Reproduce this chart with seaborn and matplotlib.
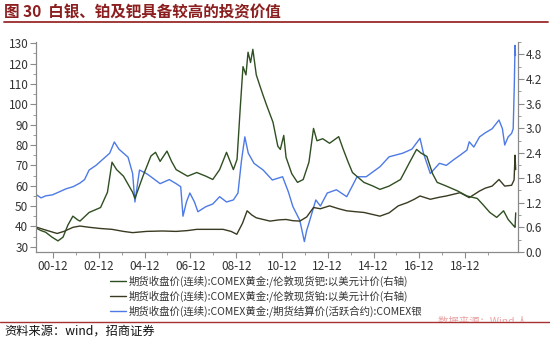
import matplotlib
matplotlib.use("Agg")
import matplotlib.pyplot as plt
from matplotlib.transforms import Bbox
from matplotlib.ticker import MultipleLocator, FixedLocator
import seaborn as sns
import pandas as pd

# ---------------- data (decimal years) ----------------
silver_x = [2000.22, 2000.4, 2000.6, 2000.9, 2001.2, 2001.5, 2001.8, 2002.1, 2002.3, 2002.5,
            2002.8, 2003.1, 2003.4, 2003.6, 2003.8, 2004.2, 2004.4, 2004.5, 2004.7, 2005.0,
            2005.2, 2005.6, 2006.0, 2006.3, 2006.5, 2006.6, 2006.75, 2006.9, 2007.1, 2007.25,
            2007.6, 2007.9, 2008.2, 2008.5, 2008.8, 2009.0, 2009.15, 2009.3, 2009.45, 2009.7,
            2010.1, 2010.5, 2010.95, 2011.2, 2011.4, 2011.7, 2011.9, 2012.0, 2012.1, 2012.4,
            2012.6, 2012.9, 2013.3, 2013.75, 2014.0, 2014.2, 2014.6, 2015.2, 2015.6, 2016.2,
            2016.6, 2016.95, 2017.1, 2017.4, 2017.8, 2018.1, 2018.4, 2018.7, 2019.0, 2019.1,
            2019.3, 2019.55, 2019.8, 2020.1, 2020.4, 2020.55, 2020.65, 2020.8, 2020.95, 2021.02,
            2021.07, 2021.1, 2021.12]
silver_y = [55.4, 54, 55, 55.5, 57, 58.5, 59.5, 61.3, 63, 67.7,
            70, 73, 76, 81.5, 78, 74, 66, 52, 67.7, 66,
            64.4, 61, 63, 61, 59.5, 45, 52, 56.4, 52, 47.2,
            49.7, 51, 54.6, 52, 53, 56.4, 72, 84, 76, 71,
            67.7, 62.8, 64.4, 57, 49.7, 43, 32.5, 38, 41.6, 53,
            50, 56.4, 58, 54.6, 60, 64.4, 64.4, 69.3, 74.2, 76,
            78, 83.3, 76, 66, 71, 70, 72.6, 75, 77.5, 81.6,
            79, 84, 86, 88, 92.3, 88, 80, 84, 85.7, 88,
            110, 129, 124]

pall_x = [2000.22, 2000.4, 2000.6, 2000.88, 2001.14, 2001.36, 2001.57, 2001.79, 2002.0, 2002.1,
          2002.5, 2003.0, 2003.3, 2003.5, 2003.7, 2004.0, 2004.4, 2004.5, 2004.85, 2005.2,
          2005.4, 2005.6, 2005.9, 2006.1, 2006.3, 2006.8, 2007.2, 2007.6, 2007.9, 2008.2,
          2008.5, 2008.8, 2008.96, 2009.1, 2009.22, 2009.35, 2009.44, 2009.55, 2009.65, 2009.8,
          2009.96, 2010.1, 2010.26, 2010.53, 2010.74, 2010.85, 2011.0, 2011.1, 2011.35, 2011.6,
          2011.85, 2012.1, 2012.3, 2012.45, 2012.7, 2013.0, 2013.4, 2013.6, 2013.8, 2014.0,
          2014.5, 2014.9, 2015.2, 2015.6, 2016.1, 2016.5, 2016.8, 2017.0, 2017.25, 2017.5,
          2017.7, 2018.1, 2018.6, 2019.0, 2019.45, 2019.7, 2020.0, 2020.3, 2020.6, 2020.8,
          2021.05, 2021.1, 2021.13]
pall_y = [0.57, 0.52, 0.48, 0.36, 0.27, 0.36, 0.65, 0.87, 0.78, 0.75,
          0.96, 1.08, 1.45, 2.18, 2.0, 1.84, 1.45, 1.3, 1.84, 2.33,
          2.42, 2.2, 2.45, 2.2, 2.0, 1.84, 1.93, 1.84, 1.76, 2.0,
          2.42, 2.0, 2.25, 3.5, 4.5, 4.3, 4.85, 4.6, 4.92, 4.3,
          4.03, 3.8, 3.55, 3.15, 2.57, 2.49, 2.83, 2.3, 1.9, 1.69,
          1.76, 2.18, 3.0, 2.7, 2.75, 2.64, 2.8, 2.49, 2.2, 1.93,
          1.69, 1.6, 1.52, 1.6, 1.76, 2.18, 2.49, 2.4, 2.32, 1.9,
          1.69, 1.6, 1.48, 1.36, 1.3, 1.15, 0.96, 0.84, 1.0, 0.79,
          0.63, 0.6, 0.95]

plat_x = [2000.22, 2000.5, 2000.8, 2001.1, 2001.4, 2001.8, 2002.1, 2002.5, 2003.0, 2003.5,
          2004.0, 2004.4, 2005.0, 2005.7, 2006.3, 2006.8, 2007.2, 2007.8, 2008.35, 2008.7,
          2008.95, 2009.2, 2009.4, 2009.6, 2009.8, 2010.4, 2010.8, 2011.1, 2011.4, 2011.7,
          2012.0, 2012.3, 2012.6, 2013.0, 2013.4, 2013.75, 2014.1, 2014.5, 2015.2, 2015.6,
          2016.0, 2016.4, 2016.7, 2016.95, 2017.4, 2017.8, 2018.1, 2018.7, 2019.1, 2019.55,
          2019.8, 2020.1, 2020.4, 2020.65, 2020.95, 2021.06, 2021.1, 2021.13]
plat_y = [0.6, 0.55, 0.5, 0.45, 0.5, 0.6, 0.63, 0.6, 0.57, 0.55,
          0.5, 0.47, 0.5, 0.51, 0.5, 0.52, 0.55, 0.55, 0.55, 0.5,
          0.43, 0.7, 1.0, 0.9, 0.83, 0.75, 0.78, 0.79, 0.76, 0.75,
          0.85, 1.08, 1.05, 1.12, 1.05, 1.0, 0.98, 0.96, 0.87, 0.95,
          1.12, 1.2, 1.28, 1.36, 1.28, 1.33, 1.36, 1.44, 1.32, 1.48,
          1.55, 1.6, 1.76, 1.6, 1.62, 1.75, 2.35, 2.0]

tick_pos = [2000.92, 2002.92, 2004.92, 2006.92, 2008.92, 2010.92, 2012.92, 2014.92, 2016.92, 2018.92]
tick_labels = ["00-12", "02-12", "04-12", "06-12", "08-12", "10-12", "12-12", "14-12", "16-12", "18-12"]

label_pall = "期货收盘价(连续):COMEX黄金:/伦敦现货钯:以美元计价(右轴)"
label_plat = "期货收盘价(连续):COMEX黄金:/伦敦现货铂:以美元计价(右轴)"
label_silv = "期货收盘价(连续):COMEX黄金:/期货结算价(活跃合约):COMEX银"
title_text = "图 30  白银、铂及钯具备较高的投资价值"
source_text = "资料来源：wind，招商证券"

# ---------------- style ----------------
sns.set_theme(style="white")
plt.rcParams['font.family'] = ['Noto Sans CJK SC', 'DejaVu Sans']
plt.rcParams['axes.unicode_minus'] = False

c_pall = "#2f4f22"
c_plat = "#3a3a22"
c_silv = "#4d7ae6"
spine_c = "#8a8a8a"
text_c = "#333333"

W, H = 550, 348
fig = plt.figure(figsize=(W / 100, H / 100), dpi=100)
ax = fig.add_axes([36 / W, 1 - 252 / H, (518 - 36) / W, (252 - 41.5) / H])
ax2 = ax.twinx()

df_s = pd.DataFrame({"x": silver_x, "y": silver_y})
df_p = pd.DataFrame({"x": pall_x, "y": pall_y})
df_t = pd.DataFrame({"x": plat_x, "y": plat_y})

sns.lineplot(data=df_s, x="x", y="y", ax=ax, color=c_silv, lw=1.0, label=label_silv, legend=False)
sns.lineplot(data=df_t, x="x", y="y", ax=ax2, color=c_plat, lw=1.0, label=label_plat, legend=False)
sns.lineplot(data=df_p, x="x", y="y", ax=ax2, color=c_pall, lw=1.0, label=label_pall, legend=False)

ax.set_xlim(2000.18, 2021.23)
ax.set_ylim(27.4, 130.9)
ax2.set_ylim(0, 5.11)

ax.set_xlabel("")
ax.set_ylabel("")
ax2.set_ylabel("")

ax.xaxis.set_major_locator(FixedLocator(tick_pos))
ax.set_xticklabels(tick_labels)
ax.xaxis.set_minor_locator(FixedLocator([p + 1 for p in tick_pos]))
ax.yaxis.set_major_locator(MultipleLocator(10))
ax.yaxis.set_minor_locator(MultipleLocator(5))
ax2.yaxis.set_major_locator(FixedLocator([0.0, 0.6, 1.2, 1.8, 2.4, 3.0, 3.6, 4.2, 4.8]))
ax2.yaxis.set_minor_locator(MultipleLocator(0.3))
ax2.set_yticklabels(["0.0", "0.6", "1.2", "1.8", "2.4", "3.0", "3.6", "4.2", "4.8"])

for a in (ax, ax2):
    for s in a.spines.values():
        s.set_color(spine_c)
        s.set_linewidth(0.8)
    a.spines['top'].set_visible(False)
    a.tick_params(which='major', length=4, width=0.8, color=spine_c, labelsize=8.5,
                  labelcolor=text_c, pad=1.5, direction='out')
    a.tick_params(which='minor', length=2, width=0.6, color=spine_c, direction='out')
ax.tick_params(axis='x', which='both', bottom=True)
ax.tick_params(axis='y', which='both', left=True)
ax2.tick_params(axis='y', which='both', right=True)
ax.tick_params(axis='x', pad=1.5)
ax.grid(False)
ax2.grid(False)

# legend
h_s = ax.get_lines()[0]
h_t, h_p = ax2.get_lines()[0], ax2.get_lines()[1]
leg = fig.legend([h_p, h_t, h_s], [label_pall, label_plat, label_silv],
                 loc='upper left', bbox_to_anchor=(110 / W, 1 - 275 / H),
                 frameon=False, fontsize=7.5, handlelength=1.5, handletextpad=0.3,
                 labelspacing=0.35, borderpad=0, borderaxespad=0)
for t in leg.get_texts():
    t.set_color(text_c)

# title and rules
fig.text(4 / W, 1 - 12 / H, title_text, fontsize=11.2, fontweight='bold', color="#8b1e1e",
         ha='left', va='center')
fig.add_artist(plt.Line2D([4 / W, 548 / W], [1 - 22 / H, 1 - 22 / H], color="#9a2a2a", lw=1.3))
fig.add_artist(plt.Line2D([0, 1], [1 - 322 / H, 1 - 322 / H], color="#a83232", lw=1.0))

# faint clipped note at lower right
note = fig.text(438 / W, 1 - 322 / H, "数据来源：Wind 人", fontsize=7.5, color="#e9a3a3",
                ha='left', va='center')
note.set_clip_box(Bbox([[0, H - 321.5], [W, H - 300]]))
note.set_clip_on(True)

fig.text(4 / W, 1 - 331 / H, source_text, fontsize=8.8, color="#111111", ha='left', va='center')

fig.savefig("out.png", dpi=100)
